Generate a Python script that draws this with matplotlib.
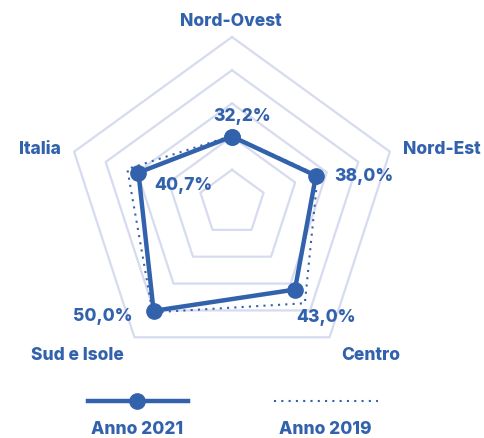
import numpy as np
import matplotlib.pyplot as plt
from matplotlib.lines import Line2D

plt.rcParams['font.family'] = ['Inter', 'DejaVu Sans']

regioni = ['Nord-Ovest', 'Nord-Est', 'Centro', 'Sud e Isole', 'Italia']
anno_2021 = [32.2, 38.0, 43.0, 50.0, 40.7]
anno_2019 = [32.4, 38.5, 47.5, 50.5, 43.8]
etichette = ['32,2%', '38,0%', '43,0%', '50,0%', '40,7%']

blu = '#3362ad'
griglia = '#d6dbef'

r_min, r_max = 14.5, 58.7
anelli = np.linspace(r_min, r_max, 6)[1:]

ang = np.linspace(0, 2 * np.pi, len(regioni), endpoint=False)
ang_c = np.append(ang, ang[0])

fig = plt.figure(figsize=(4.84, 4.39), dpi=100)
ax = fig.add_axes([66 / 484, 69 / 439, 332 / 484, 332 / 439], projection='polar')
ax.set_theta_offset(np.pi / 2)
ax.set_theta_direction(-1)
ax.set_ylim(r_min, r_max)
ax.axis('off')

for r in anelli:
    ax.plot(ang_c, [r] * len(ang_c), color=griglia, lw=1.6, zorder=1, clip_on=False)

ax.plot(ang_c, anno_2019 + anno_2019[:1], color=blu, lw=1.5,
        linestyle=(0, (1, 2.5)), zorder=2, clip_on=False)
ax.plot(ang_c, anno_2021 + anno_2021[:1], color=blu, lw=3.2, marker='o',
        markersize=11, zorder=3, clip_on=False)

fs = 12.5
fw = 'heavy'

# scostamento delle etichette dai punti (pixel)
offs = [(10, 21, 'center'), (18, 0, 'left'), (31, -27, 'center'),
        (-21, -5, 'right'), (16, -12, 'left')]
for a, v, t, (dx, dy, ha) in zip(ang, anno_2021, etichette, offs):
    ax.annotate(t, (a, v), xytext=(dx * 0.72, dy * 0.72), textcoords='offset points',
                ha=ha, va='center', fontsize=fs, fontweight=fw, color=blu)

pos_cat = [(231, 22), (442, 149), (371, 356), (77, 356), (40, 149)]
for nome, (x, y) in zip(regioni, pos_cat):
    fig.text(x / 484, 1 - y / 439, nome, ha='center', va='center',
             fontsize=fs, fontweight=fw, color=blu)

# legenda
lg = fig.add_axes([0, 0, 1, 90 / 439])
lg.set_xlim(0, 484)
lg.set_ylim(90, 0)
lg.axis('off')
lg.add_line(Line2D([88, 188], [53, 53], color=blu, lw=3.2))
lg.add_line(Line2D([137], [53], color=blu, marker='o', markersize=11))
lg.add_line(Line2D([274, 378], [53, 53], color=blu, lw=1.5, linestyle=(0, (1, 2.5))))
lg.text(137, 81, 'Anno 2021', ha='center', va='center', fontsize=fs,
        fontweight=fw, color=blu)
lg.text(325, 81, 'Anno 2019', ha='center', va='center', fontsize=fs,
        fontweight=fw, color=blu)

fig.savefig('out.png', dpi=100)
